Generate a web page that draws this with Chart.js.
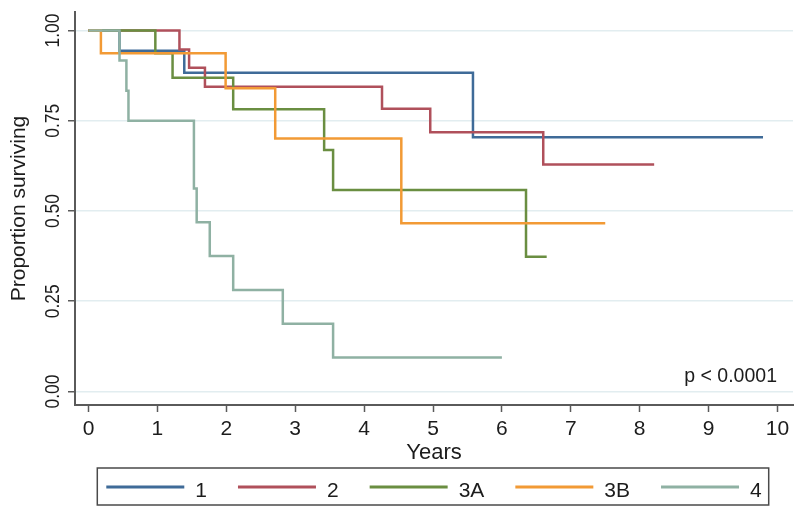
<!DOCTYPE html>
<html>
<head>
<meta charset="utf-8">
<script src="https://cdn.jsdelivr.net/npm/chart.js@4.4.1/dist/chart.umd.min.js"></script>
<style>
  html, body { margin: 0; padding: 0; background: #fff; }
</style>
</head>
<body>
<canvas id="km" width="800" height="517"></canvas>
<script>
// groups + colours
const groups = ['1', '2', '3A', '3B', '4'];
const colors = ['#3f6b98', '#b0505b', '#6a8e41', '#f29a35', '#8fb1a3'];

// Kaplan-Meier steps (years, proportion surviving)
const years1 = [0, 0.45, 1.39, 5.58, 9.79];
const surv1 = [1, 0.944, 0.883, 0.704, 0.704];
const years2 = [0, 1.32, 1.46, 1.69, 4.26, 4.96, 6.60, 8.21];
const surv2 = [1, 0.947, 0.897, 0.844, 0.783, 0.718, 0.629, 0.629];
const years3A = [0, 0.97, 1.22, 2.10, 3.42, 3.55, 6.35, 6.65];
const surv3A = [1, 0.937, 0.869, 0.782, 0.669, 0.558, 0.373, 0.373];
const years3B = [0, 0.18, 1.99, 2.71, 4.54, 7.50];
const surv3B = [1, 0.937, 0.840, 0.701, 0.466, 0.466];
const years4 = [0, 0.45, 0.55, 0.58, 1.53, 1.57, 1.76, 2.10, 2.82, 3.55, 6.0];
const surv4 = [1, 0.917, 0.833, 0.75, 0.5625, 0.469, 0.375, 0.281, 0.1875, 0.094, 0.094];

const xTicks = [0, 1, 2, 3, 4, 5, 6, 7, 8, 9, 10];
const yTicks = [0, 0.25, 0.5, 0.75, 1];
const yTickLabels = ['0.00', '0.25', '0.50', '0.75', '1.00'];
const pText = 'p < 0.0001';

const FONT = "'Liberation Sans', Arial, sans-serif";
const TEXT = '#1c1c1c';
const AXIS = '#5a5a5a';

const allYears = [years1, years2, years3A, years3B, years4];
const allSurv = [surv1, surv2, surv3A, surv3B, surv4];

const datasets = groups.map(function (g, i) {
  return {
    label: g,
    data: allYears[i].map((t, j) => ({ x: t, y: allSurv[i][j] })),
    borderColor: colors[i],
    backgroundColor: colors[i],
    borderWidth: 2.5,
    pointRadius: 0,
    stepped: 'before',
    fill: false,
    order: groups.length - i, // later groups on top, like stata
  };
});

// rotated y tick labels + p value
const extraText = {
  id: 'extraText',
  afterDraw(chart) {
    const ctx = chart.ctx;
    const y = chart.scales.y;
    ctx.save();
    ctx.fillStyle = TEXT;
    ctx.font = '20px ' + FONT;
    ctx.textAlign = 'center';
    ctx.textBaseline = 'alphabetic';
    yTicks.forEach(function (v, i) {
      ctx.save();
      ctx.translate(59, y.getPixelForValue(v));
      ctx.rotate(-Math.PI / 2);
      ctx.scale(0.87, 1);
      ctx.fillText(yTickLabels[i], 0, 0);
      ctx.restore();
    });
    const area = chart.chartArea;
    ctx.font = '19.5px ' + FONT;
    ctx.textAlign = 'right';
    ctx.fillText(pText, area.right - 16, area.bottom - 23);
    ctx.restore();
  }
};

// boxed legend under the axis
const boxLegend = {
  id: 'boxLegend',
  afterDraw(chart) {
    const ctx = chart.ctx;
    const area = chart.chartArea;
    const lineLen = 78, gap = 11, spacing = 31;
    ctx.save();
    ctx.font = '21px ' + FONT;
    const widths = groups.map(g => ctx.measureText(g).width);
    let total = 0;
    widths.forEach(function (w, i) {
      total += lineLen + gap + w + (i < widths.length - 1 ? spacing : 0);
    });
    const cx = (area.left + area.right) / 2;
    let x = cx - total / 2;
    const top = 468, h = 37, lineY = 487;
    ctx.strokeStyle = '#4a4a4a';
    ctx.lineWidth = 1.5;
    ctx.strokeRect(x - 9, top, total + 16, h);
    groups.forEach(function (g, i) {
      ctx.strokeStyle = colors[i];
      ctx.lineWidth = 3;
      ctx.beginPath();
      ctx.moveTo(x, lineY);
      ctx.lineTo(x + lineLen, lineY);
      ctx.stroke();
      ctx.fillStyle = TEXT;
      ctx.textAlign = 'left';
      ctx.textBaseline = 'alphabetic';
      ctx.fillText(g, x + lineLen + gap, 497);
      x += lineLen + gap + widths[i] + spacing;
    });
    ctx.restore();
  }
};

new Chart(document.getElementById('km'), {
  type: 'line',
  data: { datasets: datasets },
  plugins: [extraText, boxLegend],
  options: {
    responsive: false,
    animation: false,
    devicePixelRatio: 1,
    layout: { padding: { top: 12, right: 7, bottom: 50, left: 0 } },
    plugins: {
      legend: { display: false },
      tooltip: { enabled: false },
    },
    scales: {
      x: {
        type: 'linear',
        min: -0.196,
        max: 10.225,
        afterBuildTicks: s => { s.ticks = xTicks.map(v => ({ value: v })); },
        afterFit: s => { s.height = 62; },
        grid: { drawOnChartArea: false, tickLength: 7, tickColor: AXIS, tickWidth: 1.5, color: AXIS },
        border: { color: AXIS, width: 2 },
        ticks: { color: TEXT, font: { family: FONT, size: 21 }, padding: 5, maxRotation: 0, autoSkip: false },
        title: { display: true, text: 'Years', color: TEXT, font: { family: FONT, size: 22 }, padding: { top: 0, bottom: 1 } },
      },
      y: {
        min: -0.0374,
        max: 1.0512,
        afterBuildTicks: s => { s.ticks = yTicks.map(v => ({ value: v })); },
        afterFit: s => { s.width = 75; },
        grid: { color: '#e2edf0', lineWidth: 1.5, tickLength: 7, tickColor: AXIS, tickWidth: 1.5 },
        border: { color: AXIS, width: 2 },
        ticks: { display: false },
        title: { display: true, text: 'Proportion surviving', color: TEXT, font: { family: FONT, size: 21 }, padding: { top: 7, bottom: 0 } },
      },
    },
  },
});
</script>
</body>
</html>
